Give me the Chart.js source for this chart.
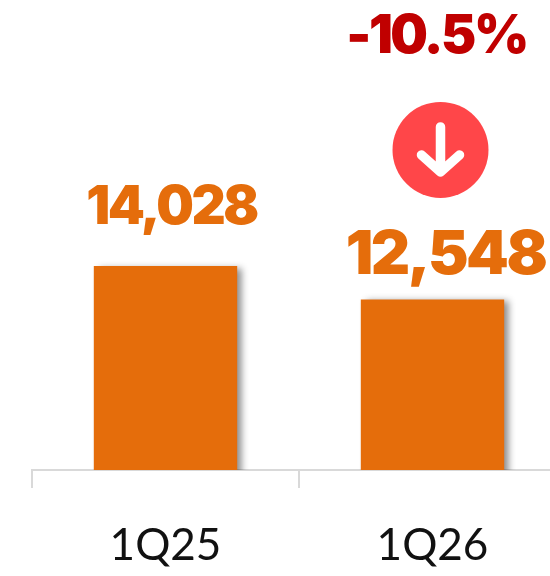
<!DOCTYPE html>
<html>
<head>
<meta charset="utf-8">
<script src="https://cdn.jsdelivr.net/npm/chart.js@4"></script>
<style>
html, body { margin: 0; padding: 0; background: #fff; overflow: hidden; }
#wrap { width: 600px; height: 576px; }
</style>
</head>
<body>
<div id="wrap"><canvas id="myChart" width="600" height="576"></canvas></div>
<script>
const categories = ['1Q25', '1Q26'];
const values = [14028, 12548];
const valueLabels = ['14,028', '12,548'];
const changeLabel = '-10.5%';

const orange = '#e56d0b';
const red = '#c00000';
const badgeRed = '#ff4649';
const boldFont = '"Inter", sans-serif';

// the two value labels are not the same size in the original
const labelLook = [
    { size: 53, spacing: '-2.5px', dx: 6, dy: 42 },
    { size: 61, spacing: '-2.5px', dx: 13, dy: 25 }
];

// bar shadow, only while the bars are drawn
const barShadow = {
    id: 'barShadow',
    beforeDatasetDraw(chart) {
        const ctx = chart.ctx;
        ctx.save();
        ctx.shadowColor = 'rgba(0, 0, 0, 0.45)';
        ctx.shadowBlur = 7;
        ctx.shadowOffsetX = 5;
        ctx.shadowOffsetY = 2;
    },
    afterDatasetDraw(chart) {
        chart.ctx.restore();
    }
};

const barLabels = {
    id: 'barLabels',
    afterDatasetsDraw(chart) {
        const ctx = chart.ctx;
        const bars = chart.getDatasetMeta(0).data;

        ctx.save();
        ctx.textAlign = 'center';
        ctx.textBaseline = 'alphabetic';
        ctx.fillStyle = orange;
        bars.forEach(function(bar, i) {
            const look = labelLook[i];
            ctx.font = '900 ' + look.size + 'px ' + boldFont;
            ctx.letterSpacing = look.spacing;
            ctx.fillText(valueLabels[i], bar.x + look.dx, bar.y - look.dy);
        });

        // change label and arrow badge above the last bar
        const last = bars[bars.length - 1];
        const cx = last.x + 8;
        const cy = last.y - 149.5;

        ctx.fillStyle = red;
        ctx.font = '900 53px ' + boldFont;
        ctx.letterSpacing = '-2.5px';
        ctx.fillText(changeLabel, last.x + 4, last.y - 246);
        ctx.letterSpacing = '0px';

        ctx.fillStyle = badgeRed;
        ctx.beginPath();
        ctx.arc(cx, cy, 48, 0, Math.PI * 2);
        ctx.fill();

        ctx.strokeStyle = '#fff';
        ctx.lineWidth = 9.5;
        ctx.lineCap = 'round';
        ctx.lineJoin = 'round';
        ctx.beginPath();
        ctx.moveTo(cx, cy - 23);
        ctx.lineTo(cx, cy + 22);
        ctx.moveTo(cx - 19, cy + 5);
        ctx.lineTo(cx, cy + 22);
        ctx.lineTo(cx + 19, cy + 5);
        ctx.stroke();
        ctx.restore();
    }
};

new Chart(document.getElementById('myChart'), {
    type: 'bar',
    data: {
        labels: categories,
        datasets: [{
            data: values,
            backgroundColor: orange,
            categoryPercentage: 1,
            barPercentage: 0.537
        }]
    },
    options: {
        responsive: false,
        animation: false,
        layout: { padding: { left: 32, right: 34, top: 18, bottom: 0 } },
        plugins: { legend: { display: false }, tooltip: { enabled: false } },
        scales: {
            x: {
                afterFit(scale) {
                    scale.height = 106;
                },
                border: { color: '#d9d9d9', width: 2 },
                grid: { drawOnChartArea: false, color: '#d9d9d9', lineWidth: 2, tickLength: 18 },
                ticks: {
                    color: '#111',
                    padding: 31,
                    maxRotation: 0,
                    font: { family: '"Lato", sans-serif', size: 44, weight: 400 }
                }
            },
            y: { display: false, min: 5000, max: 25000 }
        }
    },
    plugins: [barShadow, barLabels]
});
</script>
</body>
</html>
